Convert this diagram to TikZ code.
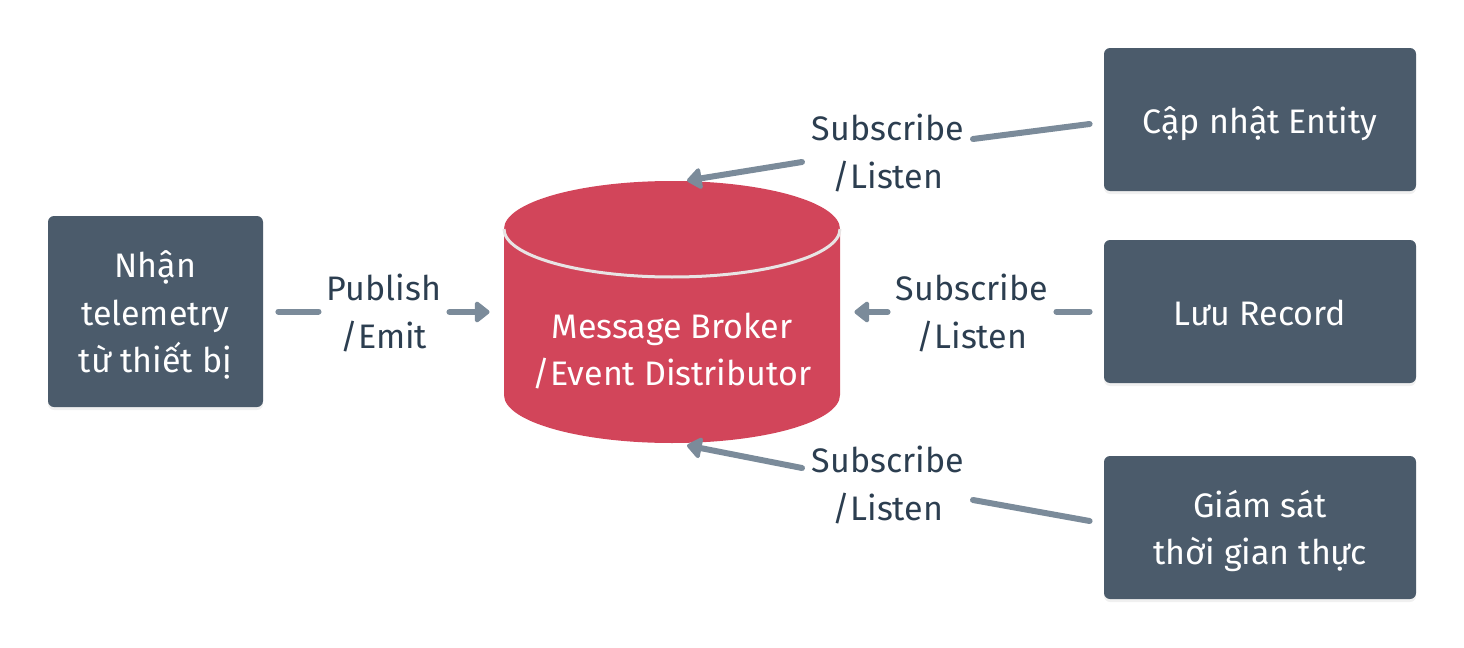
\documentclass[tikz,border=0pt]{standalone}
\usepackage{fontspec}
\setmainfont{Fira Sans}
\usetikzlibrary{arrows.meta,shadows}
\definecolor{boxc}{HTML}{4B5B6B}
\definecolor{txtc}{HTML}{2C3E50}
\definecolor{arrc}{HTML}{7B8B9A}
\definecolor{redc}{HTML}{D2455A}
\definecolor{rimc}{HTML}{E8E4E4}
\newcommand{\bxtext}[1]{\raisebox{-2pt}[\height][\depth]{\begin{tabular}{@{}c@{}}#1\end{tabular}}}
\begin{document}
\begin{tikzpicture}[x=0.5pt,y=-0.5pt,
  txt/.style={font=\fontsize{17}{23.75}\selectfont, align=center},
  box/.style={font=\fontsize{17}{23.75}\selectfont, fill=boxc, text=white, rounded corners=3pt, inner sep=0pt,
    drop shadow={opacity=0.12, shadow xshift=0pt, shadow yshift=-1.5pt}},
  lbl/.style={txt, text=txtc, inner sep=4pt},
  conn/.style={draw=arrc, line width=3pt, line cap=round},
  arr/.style={conn, -{Triangle[round, length=8pt, width=12pt]}}]
\useasboundingbox (0,0) rectangle (1464,648);
% cylinder
\path[fill=redc] (504,229) -- (504,395)
  arc[start angle=180, end angle=360, x radius=84pt, y radius=24pt]
  -- (840,229)
  arc[start angle=0, end angle=180, x radius=84pt, y radius=24pt] -- cycle;
\draw[rimc, line width=1.5pt] (504,229)
  arc[start angle=180, end angle=360, x radius=84pt, y radius=24pt];
\node[minimum width=168pt, minimum height=131pt, inner sep=0pt] (broker) at (672,312) {};
\node[txt, text=white, inner sep=0pt] (brokertext) at (672,351) {Message Broker\\/Event Distributor};
% boxes
\node[box, minimum width=107.5pt, minimum height=95.5pt] (src) at (155.5,311.5) {\bxtext{Nhận\\telemetry\\từ thiết bị}};
\node[box, minimum width=156pt, minimum height=71.5pt] (upd) at (1260,119.5) {\bxtext{Cập nhật Entity}};
\node[box, minimum width=156pt, minimum height=71.5pt] (rec) at (1260,311.5) {\bxtext{Lưu Record}};
\node[box, minimum width=156pt, minimum height=71.5pt] (mon) at (1260,527.5) {\bxtext{Giám sát\\thời gian thực}};
% labels
\node[lbl] (pub) at (384,313) {Publish\\/Emit};
\node[lbl] (sub1) at (888,153) {Subscribe\\/Listen};
\node[lbl] (sub2) at (972,313) {Subscribe\\/Listen};
\node[lbl] (sub3) at (888,485) {Subscribe\\/Listen};
% connectors
\draw[conn, shorten <=7.5pt] (src.east) -- (src.east -| pub.west);
\draw[arr, shorten >=7pt] (pub.east |- broker.west) -- (broker.west);
\draw[conn, shorten <=7pt] (rec.west) -- (rec.west -| sub2.east);
\draw[arr, shorten >=7pt] (sub2.west |- broker.east) -- (broker.east);
\draw[conn] ([shift={(-14,4.5)}]upd.west) -- ([shift={(85,-14)}]sub1.center);
\draw[arr] ([shift={(-86,9)}]sub1.center) -- ([shift={(15,0)}]broker.north);
\draw[conn] ([shift={(-14,-6.5)}]mon.west) -- ([shift={(85,15)}]sub3.center);
\draw[arr] ([shift={(-86,-17)}]sub3.center) -- ([shift={(15,2)}]broker.south);
\end{tikzpicture}
\end{document}
